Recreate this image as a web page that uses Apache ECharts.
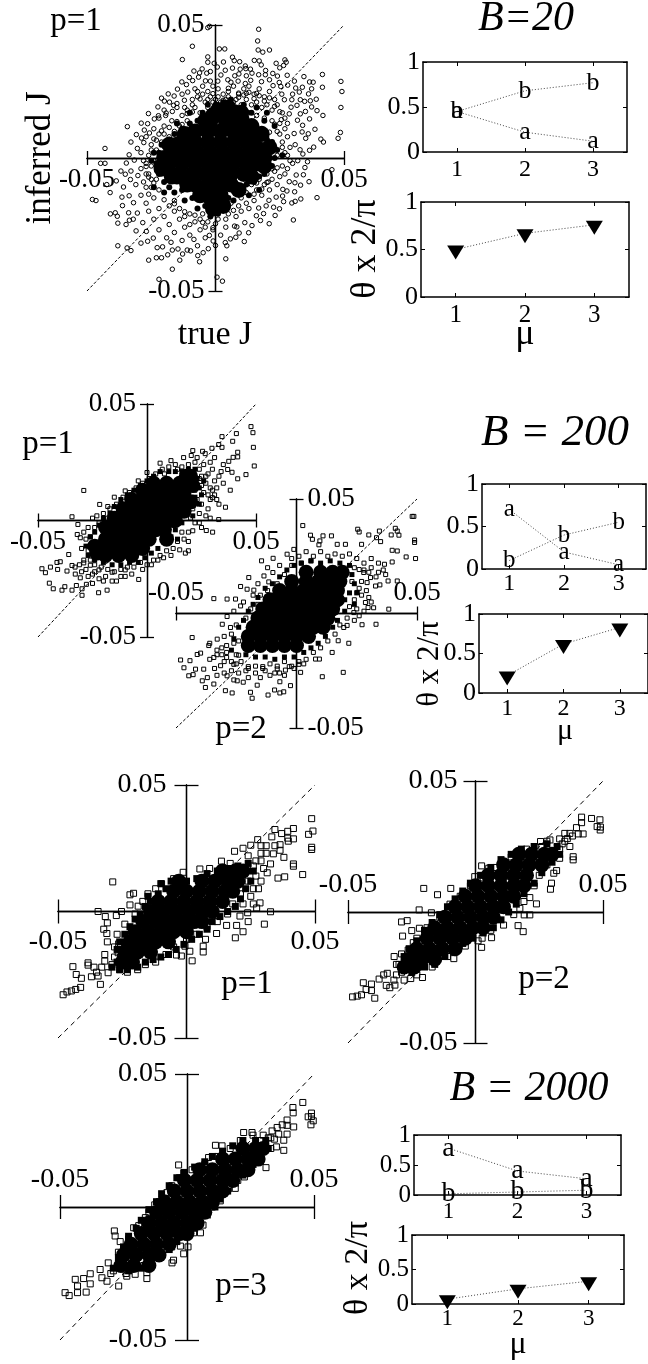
<!DOCTYPE html>
<html><head><meta charset="utf-8">
<style>html,body{margin:0;padding:0;background:#fff}#c{width:648px;height:1364px}</style>
<script src="https://cdn.jsdelivr.net/npm/echarts@6/dist/echarts.min.js"></script>
</head><body><div id="c"></div>
<script>
// All scatter values are inferred J against true J, written in thousandths.
const tickJ = [-0.05, 0.05];
const tickMu = [1, 2, 3];
const tickTheta = [0, 0.5, 1];
const diagonal = [[-0.05, -0.05], [0.05, 0.05]];

const b20Points = [[-3,49],[-2.3,49.5],[16.8,48.4],[16.4,44],[-9,42],[1.5,41],[3.6,41],[16.6,40.6],[18.4,39.8],[21,40.6],[-12.9,37],[-3,38],[-3,36],[-0.5,35.6],[6.6,37.9],[7.3,36.6],[17,36.5],[17.8,35],[23.6,35.6],[25,33.9],[26.5,34.8],[27,36.9],[27.5,36],[-5.2,33.5],[-6.2,32],[-3.4,31.9],[-2,32.5],[3.8,33],[6.6,33.8],[9.6,33.4],[11.6,34.6],[11.8,33.6],[19.5,32.9],[7.5,30.9],[12,30.9],[14.2,31.9],[16.8,31.3],[19.4,31.3],[34.4,30.6],[41.6,31.4],[48.8,28.8],[36.6,28.6],[38,28.5],[37.4,26],[41.6,26.6],[49.2,25],[24.8,28.4],[-3.9,29],[-2,28.9],[0.9,28.9],[6,28.5],[8.8,28.9],[11.6,28],[21,29.4],[25.8,24],[30,24],[29.7,21.9],[33,21.9],[34.7,21.3],[36.9,21.5],[39.2,22.1],[31.7,19.8],[48.8,19],[39.5,17.8],[41.8,16],[33,16.6],[35,17.5],[28.7,16.6],[25.6,14.4],[33.9,12.3],[48.6,9.6],[47.7,7.4],[41,7.1],[42,6],[38.2,4.1],[36.6,2.9],[34,1.5],[35.8,-1.4],[45.3,-4.4],[30.9,-9.3],[27.8,-12.4],[39.5,-14.9],[33.2,-15.4],[31,-16.3],[29.7,-16.9],[26.5,-16.4],[30.3,-23.3],[17.5,-23.5],[22.6,-18.5],[19.7,-18],[16.8,-18.8],[-43,3.6],[-44.7,-2],[-43,-2],[-34.3,11.8],[-27.7,10.5],[-32.9,6],[-28.8,7.5],[-36.8,-4.9],[-32.9,-4.9],[-42.3,-10],[-41,-13],[-47.9,-15.6],[-46.5,-16],[-36.2,-17.9],[-40.9,-21],[-39,-20.6],[-38,-24.5],[-38.2,-21.9],[-34.8,-25],[-32,-23],[-33.5,-23.4],[-38,-33],[-34.4,-33.8],[-32.9,-34.8],[-29,-32],[-26,-38.4],[-23,-37.5],[-21,-37.5],[-16.8,-41.8],[-13.9,-38.4],[-22,-45.6],[-6.2,-39],[0.6,-44.8],[2.7,-46.3],[4,-37.9],[-4.8,-35.6],[-11,-34.6],[-16.8,-34.6],[0,-32.9],[4.4,-33],[7.9,-29.8],[8.3,-25.9],[-21,22.5],[-17.9,21],[-15,20.5],[-13,24],[-10.8,24.8],[-22.2,15.9],[-19.4,16],[-16.8,17.5],
[-8,26],[-5,27],[-3,25],[-1,27],[1,26],[3,24],[5,25],[7,27],[9,24],[11,26],[13,27],[15,24],[17,26],[19,23],[21,25],[23,22],[-9,22],[-7,23],[-4,21],[-2,23],[0,22],[2,21],[4,22],[6,20],[8,22],[10,20],[12,22],[14,20],[16,21],[18,19],[20,20],[22,18],[24,20],[26,17],[-12,19],[-10,17],[-8,19],[-6,17],[-3,19],[0,18],[4,18],[7,17],[10,16],[13,17],[16,16],[19,15],[22,14],[25,13],[27,11],[24,10],[28,8],[26,6],[29,4],[27,2],[31,5],[32,-1],[30,-2],[28,-4],[26,-3],[25,-7],[23,-5],[24,-10],[22,-8],[20,-6],[21,-12],[19,-10],[17,-8],[18,-14],[16,-12],[14,-10],[15,-16],[12,-13],[10,-15],[13,-19],[9,-18],[6,-17],[8,-22],[5,-21],[3,-19],[4,-26],[1,-23],[-1,-20],[2,-29],[-1,-27],[-3,-24],[-5,-21],[-4,-30],[-6,-27],[-8,-24],[-10,-21],[-7,-33],[-10,-29],[-12,-26],[-14,-23],[-16,-20],[-13,-31],[-16,-28],[-18,-25],[-20,-22],[-22,-19],[-19,-30],[-22,-27],[-24,-23],[-26,-20],[-24,-15],[-27,-17],[-29,-14],[-25,-11],[-28,-9],[-23,-8],[-26,-6],[-29,-4],[-31,-10],[-27,-2],[-24,-1],[-26,1],[-29,2],[-23,3],[-25,5],[-21,6],[-19,4],[-22,9],[-18,8],[-20,12],[-16,10],[-17,14],[-14,12],[-13,16],[-11,14],[-15,19],[-20,18],[-22,15],[-24,11],[-27,8],
[2.1,31.2],[4.8,29.4],[9.1,31.6],[13.7,29.2],[17.9,28.7],[22.3,31.8],[25.4,26.9],[28.1,27.4],[31.2,26.3],[32.6,24.8],[26.8,21.9],[29.4,19.1],[31.9,14.2],[33.7,9.8],[30.6,9.2],[35.1,7.4],[32.9,3.1],[34.8,-3.6],[31.4,-6.4],[28.7,-8.9],[33.1,-10.2],[26.2,-11.8],[23.6,-14.7],[24.9,-19.1],[20.8,-15.9],[18.7,-20.9],[15.9,-21.7],[11.4,-24.3],[12.9,-28.1],[7.4,-25.6],[9.2,-28.2],[5.8,-30.4],[-0.9,-31.2],[-2.8,-34.1],[-8.4,-30.6],[-9.7,-34.9],[-14.6,-34.2],[-17.3,-31.7],[-20.6,-33.4],[-24.2,-30.1],[-26.9,-27.6],[-28.3,-24.3],[-30.4,-20.7],[-31.9,-16.8],[-33.6,-14.2],[-35.8,-10.9],[-33.1,-8.1],[-30.2,-6.6],[-34.7,-1.9],[-31.6,-0.8],[-30.4,3.6],[-27.9,5.8],[-25.7,9.4],[-26.4,12.9],[-23.8,14.7],[-19.2,16.9],[-16.3,19.8],[-12.1,21.7],[-8.9,29.1],[-6.6,30.4],[-11.3,27.6],[-14.8,25.9],[-18.4,24.1],
[-11,18],[-9,20],[-7,25],[-5,24],[-3,22],[-1,21],[1,23],[3,21.7],[5,23],[7,21],[9,22.8],[11,23.7],[13,24.7],[15,22.3],[17,23.4],[19,21.4],[21,22.6],[23,19.4],[25,17.4],[27,15],[28,13],[23,12.7],[25,9],[21,9.7],[26,4],[24,1],[28,1],[29,-1],[27,-6],[24,-3.7],[22,-4.1],[20.5,-9],[18,-11.7],[16,-9.4],[15,-13.6],[12,-17],[10,-20],[7,-19.7],[4,-23],[2,-17],[0,-24.7],[-2,-22],[-4,-26],[-6,-23],[-8,-21.5],[-10,-25],[-12,-22],[-14,-19],[-16,-16],[-18,-18],[-20,-15.7],[-22,-12],[-24,-9.4],[-26,-13.6],[-27,-11],[-25,-8],[-27,-6],[-28,-1],[-25,-3],[-23,-3],[-25,3],[-23,6.7],[-20,9],[-18,11.5],[-15,13.7],[-13,12.6],[-11,16.7],[-9,17.3],
[-8.4,32.7],[-10.2,30.3],[-13.1,28.6],[0.7,34.2],[3.1,36.1],[9.4,36.2],[13.6,33.4],[15.1,36.7],[22.4,27.2],[24.1,30.8],[27.9,31.1],[30.7,28.9],[33.8,26.6],[36.2,24.1],[37.4,19.2],[36.6,14.7],[38.7,10.8],[36.1,9.1],[34.2,-6.3],[30.8,-12.7],[36.4,-8.9],[26.1,-14.3],[23.2,-21.6],[20.9,-24.7],[14.2,-25.4],[11.2,-31.4],[3.8,-31.8],[-2.4,-29.1],[-6.9,-36.7],[-12.8,-36.1],[-18.6,-36.4],[-22.7,-33.7],[-26.4,-31.3],[-30.9,-27.4],[-33.8,-20.6],[-36.4,-14.7],[-38.6,-8.6],[-35.1,-6.1],[-33.6,1.2],[-30.8,8.8],[-28.9,13.1],[-26.1,16.7],[-22.4,19.2],[-19.9,21.4],[-16.1,23.3],
[9,24.4],[5,26.2],[12,24.3],[-6,22.2],[-1,24.2],[16,24.3],[-21,10.2],[-24,7.2],[-5,-24.2],[-1,-26.2],[-27,-3.2],[-26,-7.2],[-16,-17.2],[-12,-20.2],[20,-9.2]];
const b20Mid = [[-24,2],[-23,-2],[-25,-1],[-22,-6],[-20,-9],[-18,-11],[-16,-13],[-13,-12],[-12,-16],[-9,-15],[-7,-19],[-4,-18],[-2,-22],[1,-21],[3,-19],[5,-15],[7,-16],[10,-11],[12,-10],[15,-9],[17,-7],[19,-6],[22,-3],[23,0],[24,3],[22,6],[20,7],[18,11],[15,13],[12,15],[14,17],[11,20],[8,19],[6,22],[3,21],[0,20],[-3,20],[-5,17],[-7,14],[-10,13],[-13,11],[-16,9],[-18,7],[-21,5],[-22,2],[16,19],[19,14],[26,1],[-24,-11],[-20,-13],[8,-13],[13,-14],[17,-12],[-15,13],[-10,17],[20,17],[23,12]];
const b20Core = [[-2,14],[4,14],[-8,10],[-3,10],[2,10],[7,10],[11,9],[-13,6],[-8,6],[-3,6],[2,6],[7,6],[12,6],[15,5],[-17,2],[-12,2],[-7,2],[-2,2],[3,2],[8,2],[13,2],[17,2],[-18,-2],[-13,-2],[-8,-2],[-3,-2],[2,-2],[7,-2],[12,-2],[16,-2],[-14,-6],[-9,-6],[-4,-6],[1,-6],[6,-6],[11,-6],[-8,-10],[-3,-10],[2,-10],[6,-10],[-3,-14],[1,-14],[-20,0],[-19,-3],[19,0],[18,3],[-1,16],[4,16],[-2,-15],[2,-14],[10,12],[14,8],[-12,9],[-15,-7],[7,15],[10,17],[-4,14],[1,18],[5,19],[14,12],[18,9],[21,4],[-21,-4],[-17,-7],[-11,-10],[-6,-14],[-1,-19],[3,-18],[9,-12],[14,-7],[19,-3],[-15,5],[-18,5]];

const b200p1Points = [[47.7,40.3],[48.6,37.7],[41,37.3],[34.4,36],[39.3,34],[32.9,32.6],[34.4,31.4],[29.8,31],[48.8,31.4],[41.6,29.3],[41.6,27.3],[39.5,27.1],[25.5,29.7],[26.7,28.7],[20.3,27.9],[16.8,27],[37.5,25.4],[49.2,23.4],[45.4,19.7],[41.6,17.9],[38.2,13],[37,21.9],[39,20.7],[36,5.7],[32.9,0.4],[30.1,-5],[27.2,-4.3],[19,-13],[17.6,-14],[7.6,-16],[-3.8,-25.3],[-18.3,-29.9],[-22.2,-31],[-29,12.9],[-34.4,1.6],[-21.7,6.9],[-31.7,-1.7],[-32,-6],[-30.6,-7.4],[-35.9,-14.6],[-39.8,-17.7],[-41.3,-18],[-44.3,-20],[-48.2,-20.7],[-46.6,-22.4],[-41,-21],[-36.7,-21.7],[-34.4,-19.3],[-32.9,-23],[-30.6,-24.6],[-44.8,-26.9],[-43,-29.3],[-39,-29.9],[-37.7,-28.4],[-34.4,-29.9],[-32.4,-27.9],[-29.8,-29.3],[-27.8,-27.4],[-29.8,-32.1],
[22,25],[24,22],[26,24],[28,20],[30,22],[24,18],[27,16],[29,14],[31,17],[33,19],[35,16],[26,12],[29,9],[31,11],[33,7],[28,5],[25,7],[27,2],[24,3],[22,-1],[25,-3],[19,-5],[17,-8],[14,-9],[12,-12],[9,-13],[6,-15],[3,-17],[0,-19],[-3,-18],[-6,-20],[-9,-20],[-12,-21],[-15,-22],[-18,-21],[-21,-20],[-24,-19],[-26,-17],[-27,-13],[-29,-17],[-28,-21],[-25,-23],[-22,-25],[-19,-24],[-16,-26],[-12,-24],[-25,-27],[-31,-19],[-26,-7],[-27,-3],[-24,-3],[-22,-1],[-25,1],[-20,3],[-17,5],[-14,7],[-11,10],[-8,12],[-5,14],[-2,16],[1,18],[4,20],[7,22],[10,23],[13,24],[16,23],[19,24],[-18,1],[23,9],[22,13],[25,15],[21,5],[20,1],[16,-5],[-20,-3],[-16,3],[-12,7],[-7,11],[-2,13],[3,17],[8,20],[14,22],
[30,13],[32,14],[28,11],[34,21],[29,25],[31,27],[35,24],[21,30],[23,27],[-30,-12],[-33,-20],[-30,-22],[-27,-24],[-24,-22],[-20,-26],[-14,-26],[-10,-24],[-7,-23],[-2,-21],[2,-19],[5,-17],[-28,-8],[-29,-5],[-23,2],[-18,6],[-15,10],[-10,12.7],[-4,17],[0,20.6],[6,24.6],[11,25.7],[25,19],[27,19],[30,9.8],[32,9],[29,1],[24,-1],[21,-4.4],[19,-9],[15,-12.6],[11,-15],[-29,-18.2],[-22,-21.2],[-16,-22.2],[-10,-21.2],[-26,-19.2]];
const b200p1Mid = [[-27,-15],[-28,-11],[-26,-7],[-24,-5],[-22,-2],[-20,1],[-17,3],[-15,6],[-12,9],[-9,11],[-6,13],[-3,15],[0,17],[3,19],[6,21],[10,21],[13,21],[16,21],[19,22],[22,22],[23,18],[24,14],[22,10],[20,6],[18,3],[16,-1],[13,-4],[11,-7],[8,-9],[5,-12],[2,-14],[-1,-16],[-4,-18],[-8,-18],[-12,-19],[-16,-19],[-20,-18],[-24,-17],[25,11],[26,17],[24,7],[21,2],[14,-8]];
const b200p1Core = [[9,16],[15,16],[19,16],[2,12],[7,12],[12,12],[17,12],[-3,8],[2,8],[7,8],[12,8],[16,8],[-7,4],[-2,4],[3,4],[8,4],[13,4],[-12,0],[-7,0],[-2,0],[3,0],[8,0],[12,0],[-16,-4],[-11,-4],[-6,-4],[-1,-4],[4,-4],[8,-4],[-19,-8],[-14,-8],[-9,-8],[-4,-8],[1,-8],[-21,-12],[-16,-12],[-11,-12],[-6,-12],[-2,-12],[-19,-15],[-13,-15],[-7,-15],[20,19],[21,15],[18,19],[-24,-11],[-23,-14],[20,8],[17,4],[13,0],[9,-8],[-19,-3],[-15,1],[-11,5],[-7,9],[-2,13],[3,16]];

const b200p2Points = [[48.7,42.4],[48,42.4],[2.6,38.4],[25.4,36.8],[26,35.6],[30,34.3],[34.4,36],[41,37.2],[41.8,36],[39.3,34.3],[42.5,34.2],[33.2,33.1],[34.9,31.4],[49,32.1],[49,31],[14.5,33.9],[11,33.9],[5.8,34.2],[6.6,32.4],[9.7,31.7],[9.3,30],[16.9,30.2],[20.3,30.2],[27,30.2],[39.7,27.6],[41.8,27.3],[49.4,24],[45.5,24.7],[39.7,22.5],[36.5,21.5],[-3.9,25.9],[-1.1,28],[-9.7,24.1],[-14.5,23],[-19.8,15.7],[-13.5,16.4],[-9.8,17.9],[-11.5,13.8],[-23.2,11.8],[-20.5,10.6],[-17.7,10.2],[-34.3,6.5],[-28.8,6.3],[-25.3,6.3],[-23.2,3.3],[-28.8,-1.3],[-43.3,-10.5],[-36.4,-14],[-30.8,-4.7],[-27.4,-6.1],[-32.9,-11.2],[-39.8,-17.3],[-41.2,-17.9],[-48.1,-20.3],[-44.2,-20.6],[-46.7,-23.7],[-41.9,-24.3],[-44.7,-27.2],[-42.9,-26.7],[-38.5,-24.3],[-39.1,-29.4],[-37.8,-32.3],[-34.3,-30.8],[-34.3,-19.2],[-31.5,-22.8],[-29.5,-33.7],[-26.7,-34.7],[-28.8,-27.2],[-24.6,-29.4],[-22.1,-30],[-19.1,-34.4],[-18.4,-37],[-16.3,-31.3],[-11.8,-35.6],[-9.1,-33.4],[-6.9,-34.7],[-5.3,-34.2],[-2.5,-31.5],[-6.9,-29.8],[10.7,-27.6],[19.4,-25.7],[1.7,-25.7],[-4.6,-24.7],[7.9,-19.9],[9.5,-19.9],[14.8,-17],[21.7,-13],[17.3,-11.9],[19.6,-6.1],[27.2,-4.9],[33,-4.7],[38.3,1.9],[32,2.5],[29.7,2.6],[23.8,0.4],[41.8,14.2],[38,14.2],[32.8,12],[34.6,12.5],[30.7,15.7],[27.9,17.9],[29.3,13.5],[30,7],[25.2,9.2],[28.6,4.8],
[-2,24],[1,25],[4,27],[7,25],[10,27],[13,25],[16,26],[19,25],[22,26],[25,24],[28,22],[31,20],[34,18],[24,20],[27,14],[23,14],[26,11],[24,6],[22,3],[21,-2],[18,-5],[16,-9],[13,-12],[10,-15],[7,-17],[4,-20],[1,-21],[-2,-23],[-5,-21],[-8,-23],[-11,-22],[-14,-24],[-17,-23],[-20,-24],[-23,-21],[-25,-18],[-27,-21],[-29,-17],[-31,-15],[-33,-18],[-26,-13],[-27,-9],[-25,-5],[-21,-2],[-19,2],[-16,4],[-15,8],[-12,10],[-8,13],[-5,17],[-7,21],[-12,20],[-2,21],[2,22],[6,23],[-24,-26],[-20,-28],[-15,-28],[-11,-27],[-7,-26],
[31,24],[34,22],[36,19],[33,16],[37,17],[27,8],[31,5],[25,2],[26,-1],[-16,13],[-18,8],[-22,5],[-26,1],[-30,-10],[-33,-16],[-36,-20],[-31,-18],[-30,-26],[-34,-24],[-26,-29],[-24,-12],[-29,-14],[-25,-22],[-21,-25],[-17,-26],[-13,-25],[-9,-26],[-5,-27],[-1,-24],[3,-22],[28,19],[30,18],[29,10],[28,1],[24,-3],[-37,-28],[-33,-27],[-36,-13],[-30,-21],[-27,-25],[-29,-19.2],[-26,-22.2],[-20,-23.2],[-14,-23.2],[-8,-24.2],[-3,-23.2],[1,-22.2],[-24,-18.2],[26,19.2],[21,-5.2]];
const b200p2Mid = [[-27,-16],[-26,-11],[-24,-6],[-22,-3],[-20,1],[-18,4],[-16,7],[-13,11],[-10,13],[-7,16],[-4,19],[-1,21],[2,22],[6,23],[10,22],[14,23],[18,22],[22,21],[23,17],[24,13],[22,9],[20,6],[20,1],[17,-3],[15,-6],[12,-10],[9,-13],[6,-15],[3,-17],[-1,-19],[-5,-19],[-9,-20],[-13,-19],[-17,-19],[-21,-18],[25,9],[24,4]];
const b200p2Core = [[4,18],[10,18],[15,18],[19,18],[-2,14],[4,14],[9,14],[14,14],[18,14],[-7,10],[-2,10],[3,10],[8,10],[13,10],[17,10],[-11,6],[-6,6],[-1,6],[4,6],[9,6],[14,6],[17,6],[-14,2],[-9,2],[-4,2],[1,2],[6,2],[11,2],[15,2],[-16,-2],[-11,-2],[-6,-2],[-1,-2],[4,-2],[9,-2],[13,-2],[-18,-6],[-13,-6],[-8,-6],[-3,-6],[2,-6],[7,-6],[11,-6],[-20,-10],[-15,-10],[-10,-10],[-5,-10],[0,-10],[5,-10],[-20,-14],[-15,-14],[-10,-14],[-5,-14],[0,-14]];

const b2000p1Points = [[48.7,36.7],[49.2,31.8],[47.5,30.5],[48.7,25.4],[48.7,24.5],[41.6,32.8],[39.4,31.7],[37,30.8],[34.4,32.4],[33.2,29.5],[39.4,29],[41.6,28.7],[39.6,27.8],[36.4,26.4],[34.4,26],[33.8,22.8],[36.4,24.2],[37.9,21.4],[41.6,18.8],[41.6,17.9],[45.2,14.6],[38.2,13.7],[35.6,13.2],[32.7,18.8],[31.4,15.3],[27.7,28.4],[25,26.2],[18.7,23.8],[22,25],[32.7,-0.1],[23.8,-0.5],[30.3,-5],[19,-10.4],[28.6,3.4],[27.3,1.4],[20.8,-1.8],[19.5,-5.5],[15.6,-5.5],[11.7,-8.7],[7.4,-11],[6.5,-13.7],[6.5,-16],[2.2,-19.5],[-2,-17.6],[-3.9,-17.2],[1.3,-15.7],[-0.6,-13.7],[-28.7,11.7],[-22,6.6],[-20.6,7.2],[-34.4,0],[-31.6,-2],[-30.8,-4.5],[-32.2,-7],[-31,-8.7],[-30.8,-12],[-27.3,-1.6],[-25.3,0],[-22,2.6],[-18.8,2.1],[-15,7],[-9.7,11],[-1.3,15.5],[5.2,16.8],[13.6,19.9],[-31.8,-17],[-38.3,-20.3],[-38.3,-21.2],[-44.2,-21.8],[-42.9,-24.9],[-40.9,-26.4],[-37,-25.8],[-34.4,-25.5],[-33.5,-28.8],[-41.2,-30],[-43.1,-30.8],[-44.8,-31.4],[-46.5,-31.8],[-48,-32.9],[-30.5,-24.2],[-26.4,-12.8],[-26.6,-16.3],[-31.8,-19.6],
[24,22],[27,20],[29,23],[30,17],[27,14],[29,12],[26,9],[25,6],[22,3],[23,16],[26,18],[9,17],[17,19],[-5,13],[-12,9],[-17,4],[-20,-1],[-24,-5],[-27,-9],[-28,-14],[-28,-18],[-29,-21],[-26,-23],[-23,-24],[-19,-23],[-16,-21],[-12,-20],[-8,-17],[-5,-14],[0,-11],[4,-9],[8,-6],[12,-4],[16,-1],[18,3],[21,7],[24,12],[29,20],[31,23],[29,26],[31,26],[28,9],[26,3],[24,-4],[22,-8],[-33,-22],[-35,-24],[-36,-22]];
const b2000p1Mid = [[-27,-20],[-27,-15],[-26,-12],[-24,-9],[-22,-6],[-20,-3],[-18,-1],[-16,2],[-14,4],[-11,7],[-8,9],[-4,10],[0,12],[4,13],[8,15],[12,16],[16,17],[20,18],[24,19],[26,16],[25,12],[23,9],[21,5],[19,2],[16,0],[13,-2],[10,-4],[8,-7],[5,-9],[2,-11],[-1,-13],[-4,-15],[-7,-17],[-10,-18],[-13,-19],[-16,-20],[-19,-22],[-23,-23],[-26,-23],[-29,-22],[-10,11],[-6,12],[-15,6]];
const b2000p1Core = [[14,16],[19,16],[6,12],[11,12],[16,12],[20,12],[-5,8],[0,8],[5,8],[10,8],[15,8],[18,8],[-11,4],[-6,4],[-1,4],[4,4],[9,4],[14,4],[-14,0],[-9,0],[-4,0],[1,0],[6,0],[10,0],[-17,-4],[-12,-4],[-7,-4],[-2,-4],[3,-4],[6,-4],[-20,-8],[-15,-8],[-10,-8],[-5,-8],[0,-8],[-22,-12],[-17,-12],[-12,-12],[-7,-12],[-24,-16],[-19,-16],[-14,-16],[-25,-20],[-21,-20],[22,16],[-3,12]];

const b2000p2Points = [[48.8,35.2],[45.5,35.7],[41.6,36.2],[41.6,34.1],[47.7,32.6],[49,32.4],[48.9,31.3],[39.6,32.2],[42.2,29.8],[40.3,29.8],[37,30],[33,27.9],[29.2,27.5],[25.5,26.9],[38.3,21.1],[38.3,19.9],[33,20.5],[31.8,15.8],[30.7,14.8],[29.8,11],[29.4,8.7],[23.9,3.1],[21.3,-1.1],[18.7,-7.5],[16.7,-5.2],[19.1,-1.1],[17.4,1.4],[21.3,5.5],[6.3,-9.8],[2.6,-10],[2.4,-13.5],[-8.5,-17.8],[2.4,17.6],[5.2,16.7],[-0.3,13.5],[-20.3,9],[-9.7,9],[-14.9,6.6],[-22.1,0.8],[-17.3,-0.3],[-29,-3.8],[-26.8,-3.3],[-22,-6.2],[-25,-7.1],[-28.6,-9.2],[-24.4,-11.7],[-31.9,-17],[-26.4,-14.5],[-44,-27],[-40.8,-27.5],[-37.8,-25.6],[-33.6,-28.9],[-42.9,-29.6],[-40.8,-30],[-44.7,-31.6],[-46.4,-32.1],[-48.2,-32.4],[-39.5,-32.9],[-31.6,-27.9],[-34.6,-23.4],[-20.8,-25],[-25.4,-25.4],
[35,27],[37,25],[33,24],[36,28],[31,22],[28,18],[25,14],[23,10],[19,4],[15,-1],[11,-5],[6,-7],[1,-11],[-4,-13],[-11,-17],[-17,-21],[-23,-24],[-29,-23],[-31,-20],[-29,-16],[-23,-10],[-19,-6],[-14,-2],[-10,3],[-6,6],[-2,10],[3,13],[8,17],[14,21],[20,24],[26,25],[-30,-20],[-31,-24],[-28,-26],[-32,-26],[-35,-28],[-36,-24],[35,30],[38,29],[34,26],[28,27]];
const b2000p2Mid = [[-29,-22],[-28,-17],[-26,-14],[-23,-11],[-20,-7],[-17,-4],[-14,-1],[-11,2],[-8,5],[-5,8],[-2,11],[2,14],[6,17],[10,20],[14,22],[18,24],[23,25],[28,26],[32,25],[33,22],[30,19],[26,15],[23,11],[19,7],[16,3],[13,0],[10,-3],[7,-6],[3,-8],[-1,-10],[-5,-12],[-8,-15],[-12,-17],[-16,-20],[-20,-21],[-25,-23]];
const b2000p2Core = [[17,22],[22,22],[27,22],[30,22],[11,18],[16,18],[21,18],[26,18],[5,14],[10,14],[15,14],[20,14],[0,10],[5,10],[10,10],[15,10],[19,10],[-4,6],[1,6],[6,6],[11,6],[15,6],[-8,2],[-3,2],[2,2],[7,2],[11,2],[-12,-2],[-7,-2],[-2,-2],[3,-2],[7,-2],[-16,-6],[-11,-6],[-6,-6],[-1,-6],[3,-6],[-19,-10],[-14,-10],[-9,-10],[-4,-10],[-23,-14],[-18,-14],[-13,-14],[-8,-14],[-26,-18],[-21,-18],[-16,-18],[-28,-21],[-24,-21]];

const b2000p3Points = [[45.6,39.3],[41.7,37.4],[41.8,35.4],[49,35.3],[49,34],[47.7,33.9],[49.7,32.4],[48.8,30.9],[39.4,32.7],[37.5,30.9],[39.4,30.7],[42,30.1],[35.5,29.9],[33.5,28.6],[36.1,27.4],[39.4,27.4],[34.4,25.5],[38.1,25.1],[35.2,22.6],[38.1,21.3],[31.1,14.8],[28.9,17.1],[25.4,17.1],[25,13.6],[22.3,28],[25.6,28],[13.8,23],[11.2,23.2],[8.5,18.6],[-3.3,15.8],[-1.3,12.9],[-7.9,5.4],[-12.7,0.8],[-16.4,-4],[-21,-7.8],[-28.6,-9],[-28.3,-10.9],[-26.3,-13],[-26.9,-29.7],[-15.8,-24.7],[-15.8,-26.9],[-20.4,-25.3],[-23.7,-26],[-31.5,-27.9],[-34.2,-23.5],[-38.1,-25.1],[-40.7,-26.9],[-44,-27.2],[-38.1,-28.9],[-43.1,-29.7],[-48,-32.2],[-46.4,-33.3],[-43.1,-32.2],[-39.7,-32],[-33.5,-26.6],[-5.3,-20],[-5.9,-21],[-1.3,-17.6],[0.4,-15],[-2.6,-14.7],[2.6,-9.7],[5.3,-9.7],[6.3,-6.8],[13.1,2.3],[16.4,6.9],[19,7],[22.6,11.3],
[29,25],[32,26],[31,22],[27,20],[24,14],[20,10],[17,12],[12,5],[10,0],[7,-3],[3,-7],[-1,-11],[-6,-15],[-11,-19],[-17,-22],[-24,-25],[-29,-24],[-31,-21],[-27,-17],[-23,-12],[-19,-7],[-15,-2],[-11,2],[-6,8],[-3,11],[2,14],[7,16],[12,19],[17,22],[21,25],[33,26],[33,22],[30,27],[26,27],[-30,-25]];
const b2000p3Mid = [[-29,-23],[-27,-19],[-25,-15],[-23,-11],[-20,-8],[-18,-5],[-15,-1],[-12,2],[-10,5],[-7,8],[-4,11],[-1,13],[3,15],[7,17],[10,19],[14,21],[18,23],[22,25],[27,25],[31,25],[32,22],[29,19],[26,16],[22,12],[19,9],[16,6],[13,3],[11,0],[8,-3],[5,-6],[3,-8],[0,-11],[-4,-13],[-7,-16],[-10,-18],[-14,-20],[-18,-23],[-23,-24]];
const b2000p3Core = [[22,22],[27,22],[30,22],[14,18],[19,18],[24,18],[28,18],[5,14],[10,14],[15,14],[20,14],[24,14],[-1,10],[4,10],[9,10],[14,10],[18,10],[-5,6],[0,6],[5,6],[10,6],[14,6],[-9,2],[-4,2],[1,2],[6,2],[10,2],[-12,-2],[-7,-2],[-2,-2],[3,-2],[7,-2],[-15,-6],[-10,-6],[-5,-6],[0,-6],[4,-6],[-18,-10],[-13,-10],[-8,-10],[-3,-10],[0,-10],[-22,-14],[-17,-14],[-12,-14],[-7,-14],[-25,-18],[-20,-18],[-15,-18],[-11,-18],[-26,-22],[-21,-22],[-15,-22]];

const b20A = [0.45, 0.22, 0.12];
const b20B = [0.45, 0.68, 0.77];
const b20Theta = [0.5, 0.67, 0.76];
const b200A = [0.7, 0.2, 0.05];
const b200B = [0.1, 0.4, 0.55];
const b200Theta = [0.22, 0.62, 0.83];
const b2000A = [0.78, 0.4, 0.27];
const b2000B = [0.02, 0.05, 0.08];
const b2000Theta = [0.07, 0.22, 0.33];

const SERIF = '"Liberation Serif","Times New Roman",serif';
const grid = [], xAxis = [], yAxis = [], series = [];
const toJ = list => list.map(p => [p[0] / 1000, p[1] / 1000]);

function addBig(box, o) {
  const i = grid.length;
  grid.push({ left: box[0], top: box[1], width: box[2], height: box[3] });
  const line = { show: true, onZero: true, lineStyle: { color: '#000', width: 1.3 } };
  const mk = (position, withLabel, margin) => ({
    type: 'value', gridIndex: i, min: tickJ[0], max: tickJ[1], position,
    axisLine: line, splitLine: { show: false },
    axisTick: { show: true, length: o.tick, customValues: tickJ, lineStyle: { color: '#000', width: 1.3 } },
    axisLabel: { show: withLabel, customValues: tickJ, margin, color: '#000', fontFamily: SERIF, fontSize: o.font,
      formatter: v => v.toFixed(2) }
  });
  // Labels stay on the grid edge, so the margin runs back from there to the crossing axes.
  const xm = o.xMargin - box[3] / 2, ym = o.yMargin - box[2] / 2;
  xAxis.push(mk('bottom', o.xLabel === 'bottom', xm), mk('top', o.xLabel === 'top', xm));
  yAxis.push(mk('left', o.yLabel === 'left', ym), mk('right', o.yLabel === 'right', ym));
  const xi = xAxis.length - 2, yi = yAxis.length - 2;
  const base = { type: 'scatter', xAxisIndex: xi, yAxisIndex: yi, clip: false, silent: true };
  series.push({ type: 'line', xAxisIndex: xi, yAxisIndex: yi, data: diagonal, showSymbol: false, silent: true,
    lineStyle: { color: '#000', width: 1, type: o.dash }, z: 1 });
  series.push({ ...base, data: toJ(o.core), symbol: 'circle', symbolSize: o.coreSize, itemStyle: { color: '#000', opacity: 1 }, z: 3 });
  series.push({ ...base, data: toJ(o.mid), symbol: o.symbol, symbolSize: o.midSize, itemStyle: { color: '#000', opacity: 1 }, z: 3 });
  series.push({ ...base, data: toJ(o.points), symbol: o.symbol, symbolSize: o.size,
    itemStyle: { color: 'rgba(0,0,0,0)', borderColor: '#000', borderWidth: 1, opacity: 1 }, z: 4 });
}

function smallFrame(box, o) {
  const i = grid.length;
  grid.push({ left: box[0], top: box[1], width: box[2], height: box[3] });
  const line = { show: true, onZero: false, lineStyle: { color: '#000', width: 1.5 } };
  const tick = { show: true, inside: true, length: 4, lineStyle: { color: '#000', width: 1 } };
  const label = { color: '#000', fontFamily: SERIF };
  const mkX = (position, show) => ({ type: 'value', gridIndex: i, min: 0.5, max: 3.5, position, axisLine: line, splitLine: { show: false },
    axisTick: { ...tick, customValues: tickMu },
    axisLabel: { ...label, show, customValues: tickMu, fontSize: o.xFont, margin: o.xMargin, formatter: v => String(v) } });
  const mkY = (position, show) => ({ type: 'value', gridIndex: i, min: 0, max: 1, position, axisLine: line, splitLine: { show: false },
    axisTick: { ...tick, customValues: tickTheta },
    axisLabel: { ...label, show, customValues: tickTheta, fontSize: o.yFont, margin: 3, formatter: v => String(v) } });
  xAxis.push(mkX('bottom', true), mkX('top', false));
  yAxis.push(mkY('left', true), mkY('right', false));
  return [xAxis.length - 2, yAxis.length - 2];
}
const dotted = { color: '#444', width: 1, type: [1, 2] };
function addLetters(box, a, b, o) {
  const [xi, yi] = smallFrame(box, o);
  [['a', a], ['b', b]].forEach(([name, vals]) => {
    series.push({ type: 'line', name, xAxisIndex: xi, yAxisIndex: yi, data: tickMu.map((m, k) => [m, vals[k]]),
      symbol: 'circle', symbolSize: 2, showSymbol: true, clip: false, lineStyle: dotted, itemStyle: { color: 'rgba(0,0,0,0)' },
      label: { show: true, position: 'inside', formatter: name, color: '#000', fontFamily: SERIF, fontSize: o.letter } });
  });
}
function addTheta(box, vals, o) {
  const [xi, yi] = smallFrame(box, o);
  series.push({ type: 'line', xAxisIndex: xi, yAxisIndex: yi, data: tickMu.map((m, k) => [m, vals[k]]),
    symbol: 'triangle', symbolRotate: 180, symbolSize: [17, 14], symbolOffset: [0, 3], clip: false,
    lineStyle: dotted, itemStyle: { color: '#000' } });
}

addBig([87, 25, 257, 266], { tick: 7, font: 27, dash: [3, 2], xLabel: 'bottom', yLabel: 'left', xMargin: 8, yMargin: 11, points: b20Points, mid: b20Mid, core: b20Core, symbol: 'circle', size: 4.5, midSize: 6, coreSize: 16 });
addBig([38, 404, 218, 233], { tick: 7, font: 27, dash: [3, 2], xLabel: 'bottom', yLabel: 'left', xMargin: 8, yMargin: 11, points: b200p1Points, mid: b200p1Mid, core: b200p1Core, symbol: 'rect', size: 4, midSize: 5, coreSize: 15 });
addBig([176, 499, 241, 229], { tick: 7, font: 27, dash: [3, 2], xLabel: 'top', yLabel: 'right', xMargin: 7, yMargin: 11, points: b200p2Points, mid: b200p2Mid, core: b200p2Core, symbol: 'rect', size: 4, midSize: 5, coreSize: 15 });
addBig([58, 785, 257, 253], { tick: 12, font: 28, dash: [5, 4], xLabel: 'bottom', yLabel: 'left', xMargin: 16, yMargin: 20, points: b2000p1Points, mid: b2000p1Mid, core: b2000p1Core, symbol: 'rect', size: 6, midSize: 7, coreSize: 15 });
addBig([348, 781, 255, 262], { tick: 12, font: 28, dash: [5, 4], xLabel: 'top', yLabel: 'left', xMargin: 13, yMargin: 18, points: b2000p2Points, mid: b2000p2Mid, core: b2000p2Core, symbol: 'rect', size: 6, midSize: 7, coreSize: 15 });
addBig([60, 1074, 254, 266], { tick: 12, font: 28, dash: [5, 4], xLabel: 'top', yLabel: 'left', xMargin: 13, yMargin: 20, points: b2000p3Points, mid: b2000p3Mid, core: b2000p3Core, symbol: 'rect', size: 6, midSize: 7, coreSize: 15 });

addLetters([423, 62, 204, 90], b20A, b20B, { xFont: 24, yFont: 26, xMargin: 6, letter: 26 });
addTheta([421, 202, 208, 95], b20Theta, { xFont: 25, yFont: 26, xMargin: 6 });
addLetters([482, 484, 164, 85], b200A, b200B, { xFont: 24, yFont: 26, xMargin: 3, letter: 25 });
addTheta([479, 614, 169, 79], b200Theta, { xFont: 24, yFont: 26, xMargin: 4 });
addLetters([414, 1135, 207, 60], b2000A, b2000B, { xFont: 23, yFont: 25, xMargin: 5, letter: 28 });
addTheta([412, 1235, 212, 69], b2000Theta, { xFont: 23, yFont: 25, xMargin: 3 });

const txt = (text, x, y, font, extra) => ({ type: 'text', x, y, rotation: extra && extra.rot ? Math.PI / 2 : 0, z: 20,
  style: { text, font: `${extra && extra.italic ? 'italic ' : ''}${font}px ${SERIF}`, fill: '#000', textAlign: 'center', textVerticalAlign: 'middle' } });
const graphic = [
  txt('p=1', 76, 21, 33),
  txt('inferred J', 41, 158, 35, { rot: true }),
  txt('true J', 215, 335, 34),
  txt('B=20', 526, 19, 42, { italic: true }),
  txt('θ x 2/π', 366, 249, 36, { rot: true }),
  txt('μ', 525, 335, 36),
  txt('p=1', 48, 444, 33),
  txt('p=2', 241, 729, 33),
  txt('B = 200', 555, 433, 45, { italic: true }),
  txt('θ x 2/π', 430, 664, 31, { rot: true }),
  txt('μ', 565, 731, 30),
  txt('p=1', 247, 984, 33),
  txt('p=2', 544, 979, 33),
  txt('p=3', 241, 1286, 33),
  txt('B = 2000', 529, 1089, 42, { italic: true }),
  txt('θ x 2/π', 358, 1268, 34, { rot: true }),
  txt('μ', 518, 1345, 32)
];

const chart = echarts.init(document.getElementById('c'), null, { renderer: 'canvas' });
chart.setOption({ animation: false, backgroundColor: '#fff', grid, xAxis, yAxis, series, graphic, tooltip: { show: false } });
</script></body></html>
